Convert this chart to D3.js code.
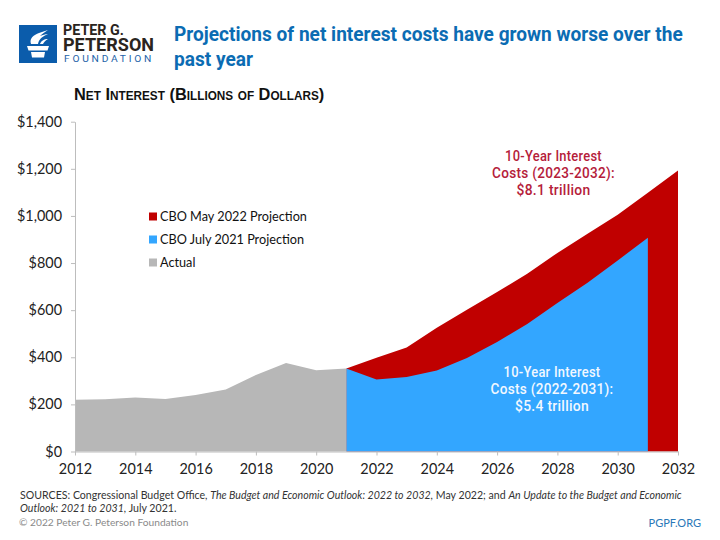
<!DOCTYPE html>
<html>
<head>
<meta charset="utf-8">
<script src="https://cdn.jsdelivr.net/npm/d3@7"></script>
<style>
    html, body { margin: 0; padding: 0; background: #fff; }
    svg { display: block; }
    .axis text { font-family: Lato, sans-serif; font-size: 14.4px; fill: #222; }
    .axis path, .axis line { stroke: #bdbdbd; stroke-width: 1; }
    .callout { font-family: Roboto, sans-serif; font-weight: 500; font-size: 14.5px; text-anchor: middle; }
    .legend text { font-family: Lato, sans-serif; font-size: 12.7px; fill: #111; }
    .sources { font-family: Lato, sans-serif; font-size: 10.6px; fill: #333; }
</style>
</head>
<body>
<svg id="chart" width="720" height="540"></svg>
<script>
var actualYears = [2012, 2013, 2014, 2015, 2016, 2017, 2018, 2019, 2020, 2021];
var actualValues = [220, 222, 229, 223, 240, 263, 325, 376, 345, 352];

var july2021Years = [2021, 2022, 2023, 2024, 2025, 2026, 2027, 2028, 2029, 2030, 2031];
var july2021Values = [352, 306, 316, 344, 397, 465, 541, 630, 716, 811, 907];

var may2022Years = [2021, 2022, 2023, 2024, 2025, 2026, 2027, 2028, 2029, 2030, 2031, 2032];
var may2022Values = [352, 398, 441, 525, 602, 677, 755, 843, 924, 1005, 1098, 1193];

var xTicks = [2012, 2014, 2016, 2018, 2020, 2022, 2024, 2026, 2028, 2030, 2032];
var yTicks = [0, 200, 400, 600, 800, 1000, 1200, 1400];

var legendLabels = ["CBO May 2022 Projection", "CBO July 2021 Projection", "Actual"];
var legendColors = ["#c00000", "#33a6ff", "#b7b7b7"];

var svg = d3.select("#chart");

var x = d3.scaleLinear().domain([2012, 2032]).range([75, 678]);
var y = d3.scaleLinear().domain([0, 1400]).range([451.5, 121.7]);

function drawArea(years, values, color) {
    var area = d3.area()
        .x(function(d) { return x(d); })
        .y0(y(0))
        .y1(function(d, i) { return y(values[i]); });
    svg.append("path")
        .attr("d", area(years))
        .attr("fill", color);
}

// the original face is condensed, so squeeze the text sideways to its width
function placeText(text, px, py, width) {
    var sx = width / text.node().getComputedTextLength();
    text.attr("transform", "translate(" + px + "," + py + ") scale(" + sx + ",1)");
}

// red goes first, the other two sit on top of it
drawArea(may2022Years, may2022Values, legendColors[0]);
drawArea(july2021Years, july2021Values, legendColors[1]);
drawArea(actualYears, actualValues, legendColors[2]);

// axes
svg.append("g")
    .attr("class", "axis")
    .attr("transform", "translate(0," + y(0) + ")")
    .call(d3.axisBottom(x)
        .tickValues(xTicks)
        .tickFormat(d3.format("d"))
        .tickSize(4)
        .tickSizeOuter(0)
        .tickPadding(8));

svg.append("g")
    .attr("class", "axis")
    .attr("transform", "translate(" + x(2012) + ",0)")
    .call(d3.axisLeft(y)
        .tickValues(yTicks)
        .tickFormat(function(d) { return "$" + d3.format(",")(d); })
        .tickSize(4)
        .tickSizeOuter(0)
        .tickPadding(9));

// legend
var legend = svg.append("g").attr("class", "legend");
legendLabels.forEach(function(label, i) {
    legend.append("rect")
        .attr("x", 149)
        .attr("y", 212.5 + i * 23)
        .attr("width", 8)
        .attr("height", 8)
        .attr("fill", legendColors[i]);
    legend.append("text")
        .attr("x", 160)
        .attr("y", 221 + i * 23)
        .text(label);
});

// callouts
var redCallout = ["10-Year Interest", "Costs (2023-2032):", "$8.1 trillion"];
var blueCallout = ["10-Year Interest", "Costs (2022-2031):", "$5.4 trillion"];
var calloutWidths = [97, 123, 74];

function drawCallout(lines, cx, top, color) {
    lines.forEach(function(line, i) {
        var t = svg.append("text")
            .attr("class", "callout")
            .attr("fill", color)
            .attr("letter-spacing", "0.3px")
            .text(line);
        placeText(t, cx, top + i * 17, calloutWidths[i]);
    });
}
drawCallout(redCallout, 553.5, 161, "#b5203a");
drawCallout(blueCallout, 552, 377, "#f2f8ff");

// header
var titleLines = ["Projections of net interest costs have grown worse over the", "past year"];
var titleWidths = [509, 79];
titleLines.forEach(function(line, i) {
    var t = svg.append("text")
        .attr("font-family", "Roboto, sans-serif")
        .attr("font-weight", 700)
        .attr("font-size", "21px")
        .attr("fill", "#0b6cb3")
        .text(line);
    placeText(t, 174, 41 + i * 25, titleWidths[i]);
});

var subtitle = svg.append("text")
    .attr("font-family", "'Liberation Sans', sans-serif")
    .attr("font-weight", 700)
    .attr("font-size", "17px")
    .attr("font-variant", "small-caps")
    .attr("fill", "#111")
    .text("Net Interest (Billions of Dollars)");
placeText(subtitle, 74, 100, 247);

// logo
var logo = svg.append("g");
logo.append("rect")
    .attr("x", 19).attr("y", 25)
    .attr("width", 38).attr("height", 38)
    .attr("fill", "#0b5cab");
logo.append("path")
    .attr("d", "M27 46h22l-1.5 4.5h-19z M31 52h14l-1 5.5h-12z")
    .attr("fill", "#fff");
logo.append("path")
    .attr("d", "M31 44c-2-6 3-9 8-11 3-1 6-2 9-3-3 2-6 4-8 6 3-1 5-2 8-2-4 2-9 4-10 10zM40 44c1-3 4-5 8-5-3 2-4 3-5 5z")
    .attr("fill", "#fff");

var logoText = [
    {text: "PETER G.", x: 63, y: 35, size: 14, weight: 700, color: "#2a2420", width: 61, spacing: 0},
    {text: "PETERSON", x: 63, y: 51, size: 17.7, weight: 700, color: "#2a2420", width: 91, spacing: 0},
    {text: "FOUNDATION", x: 64, y: 62, size: 9.7, weight: 400, color: "#1d62a8", width: 90, spacing: 2.6}
];
logoText.forEach(function(d) {
    var t = logo.append("text")
        .attr("font-family", "Roboto, sans-serif")
        .attr("font-weight", d.weight)
        .attr("font-size", d.size + "px")
        .attr("letter-spacing", d.spacing + "px")
        .attr("fill", d.color)
        .text(d.text);
    placeText(t, d.x, d.y, d.width);
});

// footer
var src1 = svg.append("text").attr("class", "sources").attr("x", 20).attr("y", 499);
src1.append("tspan").text("SOURCES: Congressional Budget Office, ");
src1.append("tspan").attr("font-style", "italic").text("The Budget and Economic Outlook: 2022 to 2032,");
src1.append("tspan").text(" May 2022; and ");
src1.append("tspan").attr("font-style", "italic").text("An Update to the Budget and Economic");

var src2 = svg.append("text").attr("class", "sources").attr("x", 20).attr("y", 511.5);
src2.append("tspan").attr("font-style", "italic").text("Outlook: 2021 to 2031,");
src2.append("tspan").text(" July 2021.");

svg.append("text")
    .attr("class", "sources")
    .attr("x", 19)
    .attr("y", 525.5)
    .style("fill", "#8a8a8a")
    .style("font-size", "10.2px")
    .text("\u00a9 2022 Peter G. Peterson Foundation");

svg.append("text")
    .attr("class", "sources")
    .attr("x", 701)
    .attr("y", 527)
    .attr("text-anchor", "end")
    .style("fill", "#2a78b8")
    .style("font-size", "11px")
    .text("PGPF.ORG");
</script>
</body>
</html>
